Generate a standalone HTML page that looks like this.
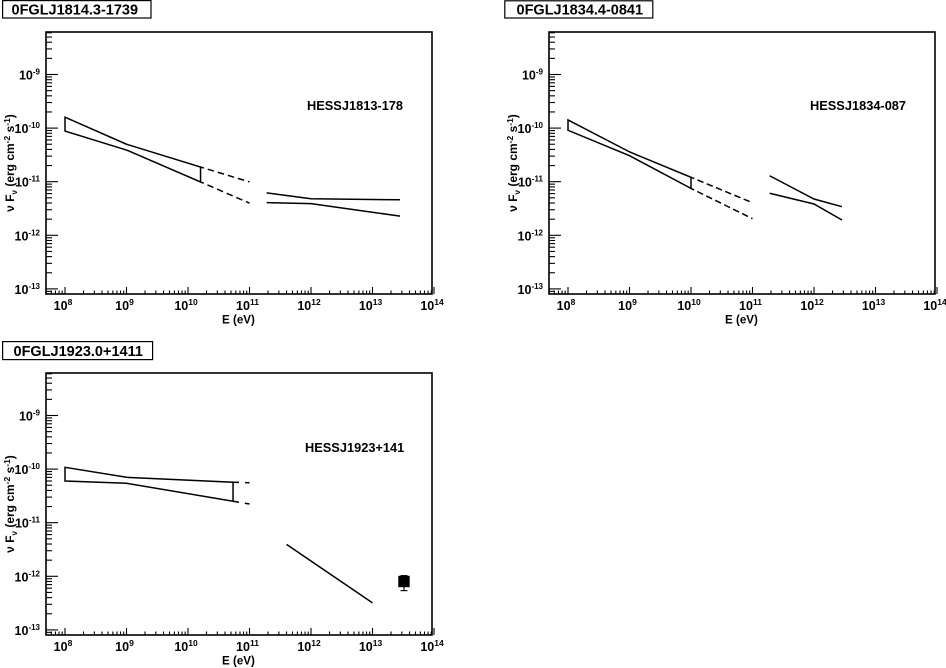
<!DOCTYPE html>
<html>
<head>
<meta charset="utf-8">
<title>SED panels</title>
<style>
html,body{margin:0;padding:0;background:#fff;}
svg{display:block;}
text{font-family:"Liberation Sans",sans-serif;font-weight:bold;fill:#000;}
</style>
</head>
<body>
<svg id="chart" xmlns="http://www.w3.org/2000/svg" width="946" height="668" viewBox="0 0 946 668"></svg>
<script>
// Axis tick exponents
const xTickExponents = [8, 9, 10, 11, 12, 13, 14];
const yTickExponents = [-9, -10, -11, -12, -13];
const minorMultipliers = [2, 3, 4, 5, 6, 7, 8, 9];

// Panel labels
const panelTitles = ["0FGLJ1814.3-1739", "0FGLJ1834.4-0841", "0FGLJ1923.0+1411"];
const sourceLabels = ["HESSJ1813-178", "HESSJ1834-087", "HESSJ1923+141"];

// Panel 1 series: energy (eV), flux (erg cm-2 s-1)
const p1BowEnergy = [1e8, 1e9, 1.6e10];
const p1BowUpper = [1.6e-10, 5.0e-11, 1.88e-11];
const p1BowLower = [8.8e-11, 3.9e-11, 9.9e-12];
const p1ExtEnergy = [1.6e10, 1e11];
const p1ExtUpper = [1.88e-11, 9.9e-12];
const p1ExtLower = [9.9e-12, 3.98e-12];
const p1TevEnergy = [1.9e11, 1e12, 2.8e13];
const p1TevUpper = [6.2e-12, 4.8e-12, 4.6e-12];
const p1TevLower = [4.07e-12, 3.9e-12, 2.28e-12];

// Panel 2 series
const p2BowEnergy = [1e8, 1e9, 1e10];
const p2BowUpper = [1.42e-10, 3.6e-11, 1.21e-11];
const p2BowLower = [9.1e-11, 3.05e-11, 7.5e-12];
const p2ExtEnergy = [1e10, 1e11];
const p2ExtUpper = [1.21e-11, 4.05e-12];
const p2ExtLower = [7.5e-12, 2.04e-12];
const p2TevEnergy = [1.9e11, 1e12, 2.85e12];
const p2TevUpper = [1.29e-11, 4.75e-12, 3.42e-12];
const p2TevLower = [6.08e-12, 3.84e-12, 1.93e-12];

// Panel 3 series
const p3BowEnergy = [1e8, 1e9, 5.4e10];
const p3BowUpper = [1.08e-10, 7.03e-11, 5.68e-11];
const p3BowLower = [6.0e-11, 5.43e-11, 2.51e-11];
const p3ExtEnergy = [5.4e10, 1e11];
const p3ExtUpper = [5.68e-11, 5.57e-11];
const p3ExtLower = [2.51e-11, 2.23e-11];
const p3TevEnergy = [4.0e11, 1e13];
const p3TevFlux = [3.95e-12, 3.2e-13];
const p3PointEnergy = [3.25e13];
const p3PointFlux = [8.0e-13];
const p3PointFluxHigh = [1.03e-12];
const p3PointFluxLow = [5.4e-13];

const svgNS = "http://www.w3.org/2000/svg";
const root = document.getElementById("chart");

function mk(parent, tag, attrs) {
  const el = document.createElementNS(svgNS, tag);
  for (const k in attrs) el.setAttribute(k, attrs[k]);
  parent.appendChild(el);
  return el;
}

function makeAxes(dx, dy) {
  return {
    left: 46 + dx, right: 432 + dx, top: 32 + dy, bottom: 294 + dy,
    x: function (e) { return 65 + dx + (Math.log10(e) - 8) * 61.5; },
    y: function (f) { return 74.5 + dy + (-9 - Math.log10(f)) * 53.6; }
  };
}

function pathFrom(ax, energies, fluxes) {
  return energies.map(function (e, i) {
    return (i ? "L" : "M") + ax.x(e).toFixed(2) + " " + ax.y(fluxes[i]).toFixed(2);
  }).join(" ");
}

function drawLine(g, ax, energies, fluxes, name, dash, offset) {
  const p = mk(g, "path", {d: pathFrom(ax, energies, fluxes), fill: "none", stroke: "#000", "stroke-width": 1.5});
  
  
  if (dash) {
    p.setAttribute("stroke-dasharray", dash);
    p.setAttribute("stroke-dashoffset", offset);
  }
  return p;
}

function drawPanel(dx, dy, titleIndex, boxY, boxH, boxX, boxW, titleX, labelX, labelY) {
  const ax = makeAxes(dx, dy);
  const g = mk(root, "g", {});
  
  

  // Title box
  const box = mk(g, "rect", {x: boxX, y: boxY, width: boxW, height: boxH, fill: "#fff", stroke: "#000", "stroke-width": 1.2});
  
  
  const title = mk(g, "text", {x: titleX, y: boxY + boxH - 3.6, "font-size": 14.5});
  title.textContent = panelTitles[titleIndex];
  
  

  // Frame
  const frame = mk(g, "rect", {x: ax.left, y: ax.top, width: ax.right - ax.left, height: ax.bottom - ax.top, fill: "none", stroke: "#000", "stroke-width": 1.6});
  
  

  // X ticks
  const xt = mk(g, "g", {stroke: "#000", "stroke-width": 1.1});
  
  
  [7].concat(xTickExponents).forEach(function (exp) {
    minorMultipliers.forEach(function (m) {
      const px = ax.x(m * Math.pow(10, exp));
      if (px > ax.left && px < ax.right) {
        mk(xt, "line", {x1: px, x2: px, y1: ax.bottom, y2: ax.bottom - 3.5});
      }
    });
  });
  xTickExponents.forEach(function (exp) {
    const px = ax.x(Math.pow(10, exp));
    mk(xt, "line", {x1: px, x2: px, y1: ax.bottom, y2: ax.bottom - 7});
    const t = mk(g, "text", {x: px - 2, y: ax.bottom + 16, "font-size": 12.5, "text-anchor": "middle"});
    
    
    t.appendChild(document.createTextNode("10"));
    const s = mk(t, "tspan", {dy: -5, "font-size": 8.5});
    s.textContent = String(exp);
  });

  // Y ticks
  const yt = mk(g, "g", {stroke: "#000", "stroke-width": 1.1});
  
  
  [-14].concat(yTickExponents).forEach(function (exp) {
    minorMultipliers.forEach(function (m) {
      const py = ax.y(m * Math.pow(10, exp));
      if (py > ax.top && py < ax.bottom) {
        mk(yt, "line", {x1: ax.left, x2: ax.left + 6, y1: py, y2: py});
      }
    });
  });
  yTickExponents.forEach(function (exp) {
    const py = ax.y(Math.pow(10, exp));
    mk(yt, "line", {x1: ax.left, x2: ax.left + 12, y1: py, y2: py});
    const t = mk(g, "text", {x: ax.left - 6, y: py + 5, "font-size": 12.5, "text-anchor": "end"});
    
    
    t.appendChild(document.createTextNode("10"));
    const s = mk(t, "tspan", {dy: -5, "font-size": 8});
    s.textContent = String(exp);
  });

  // Axis titles
  const xTitle = mk(g, "text", {x: 222 + dx, y: 323.5 + dy, "font-size": 11.6});
  xTitle.textContent = "E (eV)";
  
  

  const yTitle = mk(g, "text", {transform: "translate(" + (14 + dx) + "," + (163 + dy) + ") rotate(-90)", "font-size": 12, "text-anchor": "middle"});
  
  
  yTitle.appendChild(document.createTextNode("\u03BD  F"));
  mk(yTitle, "tspan", {dy: 3, "font-size": 8}).textContent = "\u03BD";
  mk(yTitle, "tspan", {dy: -3}).textContent = " (erg cm";
  mk(yTitle, "tspan", {dy: -4, "font-size": 8.5}).textContent = "-2";
  mk(yTitle, "tspan", {dy: 4}).textContent = " s";
  mk(yTitle, "tspan", {dy: -4, "font-size": 8.5}).textContent = "-1";
  mk(yTitle, "tspan", {dy: 4}).textContent = ")";

  // Source label
  const lab = mk(g, "text", {x: labelX, y: labelY, "font-size": 12.8});
  lab.textContent = sourceLabels[titleIndex];
  
  

  return {g: g, ax: ax};
}

function drawBow(panel, energies, upper, lower) {
  const ax = panel.ax;
  const n = energies.length - 1;
  const d = pathFrom(ax, energies, upper) + " L" + ax.x(energies[n]).toFixed(2) + " " + ax.y(lower[n]).toFixed(2) + " " +
    energies.slice().reverse().map(function (e, i) {
      return "L" + ax.x(e).toFixed(2) + " " + ax.y(lower[n - i]).toFixed(2);
    }).join(" ") + " Z";
  const p = mk(panel.g, "path", {d: d, fill: "none", stroke: "#000", "stroke-width": 1.5});
  
  
}

// Panel 1
const panel1 = drawPanel(0, 0, 0, 0.6, 17.4, 2.6, 148.4, 11.5, 307, 110);
drawBow(panel1, p1BowEnergy, p1BowUpper, p1BowLower);
drawLine(panel1.g, panel1.ax, p1ExtEnergy, p1ExtUpper, 'gev-extrapolation-upper', '6.5 4', 3);
drawLine(panel1.g, panel1.ax, p1ExtEnergy, p1ExtLower, 'gev-extrapolation-lower', '6.5 4', 3);
drawLine(panel1.g, panel1.ax, p1TevEnergy, p1TevUpper, 'tev-spectrum-upper');
drawLine(panel1.g, panel1.ax, p1TevEnergy, p1TevLower, 'tev-spectrum-lower');

// Panel 2
const panel2 = drawPanel(503, 0, 1, 0.8, 17.2, 504.8, 148, 516.5, 810, 110);
drawBow(panel2, p2BowEnergy, p2BowUpper, p2BowLower);
drawLine(panel2.g, panel2.ax, p2ExtEnergy, p2ExtUpper, 'gev-extrapolation-upper', '6.5 3.5', 3);
drawLine(panel2.g, panel2.ax, p2ExtEnergy, p2ExtLower, 'gev-extrapolation-lower', '6.5 3.5', 3);
drawLine(panel2.g, panel2.ax, p2TevEnergy, p2TevUpper, 'tev-spectrum-upper');
drawLine(panel2.g, panel2.ax, p2TevEnergy, p2TevLower, 'tev-spectrum-lower');

// Panel 3
const panel3 = drawPanel(0, 341, 2, 341.6, 18, 2.6, 150, 13.5, 305, 452);
drawBow(panel3, p3BowEnergy, p3BowUpper, p3BowLower);
drawLine(panel3.g, panel3.ax, p3ExtEnergy, p3ExtUpper, 'gev-extrapolation-upper', '6 6', 0);
drawLine(panel3.g, panel3.ax, p3ExtEnergy, p3ExtLower, 'gev-extrapolation-lower', '6 6', 0);
drawLine(panel3.g, panel3.ax, p3TevEnergy, p3TevFlux, 'tev-spectrum');

p3PointEnergy.forEach(function (e, i) {
  const ax = panel3.ax;
  const px = ax.x(e);
  const py = ax.y(p3PointFlux[i]);
  const hi = ax.y(p3PointFluxHigh[i]);
  const lo = ax.y(p3PointFluxLow[i]);
  const pt = mk(panel3.g, "g", {stroke: "#000", "stroke-width": 1.1});
  
  
  mk(pt, "line", {x1: px, x2: px, y1: hi, y2: lo});
  mk(pt, "line", {x1: px - 3.5, x2: px + 3.5, y1: hi, y2: hi});
  mk(pt, "line", {x1: px - 3.5, x2: px + 3.5, y1: lo, y2: lo});
  mk(pt, "rect", {x: px - 5.7, y: py - 5.7, width: 11.4, height: 11.4, fill: "#000", stroke: "none"});
});
</script>
</body>
</html>
